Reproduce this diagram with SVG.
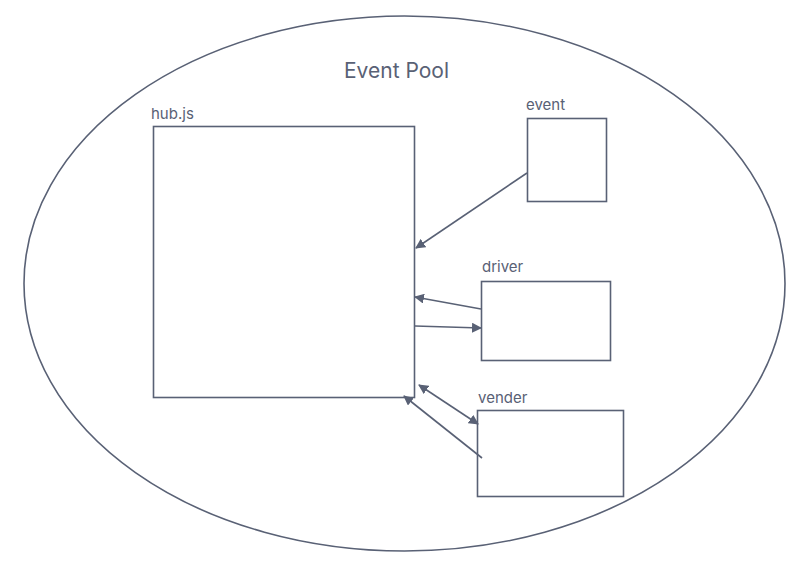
<svg xmlns="http://www.w3.org/2000/svg" width="807" height="569" viewBox="0 0 807 569">
<style>
.s{fill:none;stroke:#596175;stroke-width:1.6}
.b{fill:#fff;stroke:#596175;stroke-width:1.6}
.t{font-family:Inter,"Noto Sans",sans-serif;fill:#596175}
.c{fill:none;stroke:#596175;stroke-width:1.6;marker-end:url(#ah)}
</style>
<defs>
<marker id="ah" viewBox="0 0 10 10" refX="9" refY="5" markerWidth="10" markerHeight="10" markerUnits="userSpaceOnUse" orient="auto-start-reverse">
<path d="M0,0 L10,5 L0,10 Z" fill="#596175"/>
</marker>
</defs>
<rect width="807" height="569" fill="#fff"/>
<g id="pool">
<ellipse class="s" cx="404.5" cy="283.5" rx="380.5" ry="267.5"/>
<text class="t" x="344" y="78" font-size="21">Event Pool</text>
</g>
<g id="hub">
<rect class="b" x="153.5" y="126.5" width="261" height="271"/>
<text class="t" x="151" y="119" font-size="15">hub.js</text>
</g>
<g id="event">
<rect class="b" x="527.5" y="118.5" width="79" height="83"/>
<text class="t" x="526" y="110" font-size="15">event</text>
</g>
<g id="driver">
<rect class="b" x="481.5" y="281.5" width="129" height="79"/>
<text class="t" x="482" y="272" font-size="15">driver</text>
</g>
<g id="vender">
<rect class="b" x="477.5" y="410.5" width="146" height="86"/>
<text class="t" x="478" y="403" font-size="15">vender</text>
</g>
<g id="connectors">
<line class="c" x1="527" y1="173" x2="416" y2="248"/>
<line class="c" x1="481" y1="309" x2="415" y2="297"/>
<line class="c" x1="415" y1="326" x2="481" y2="328"/>
<line class="c" x1="419" y1="385" x2="478" y2="424" marker-start="url(#ah)"/>
<line class="c" x1="482" y1="458" x2="404" y2="396"/>
</g>
</svg>
